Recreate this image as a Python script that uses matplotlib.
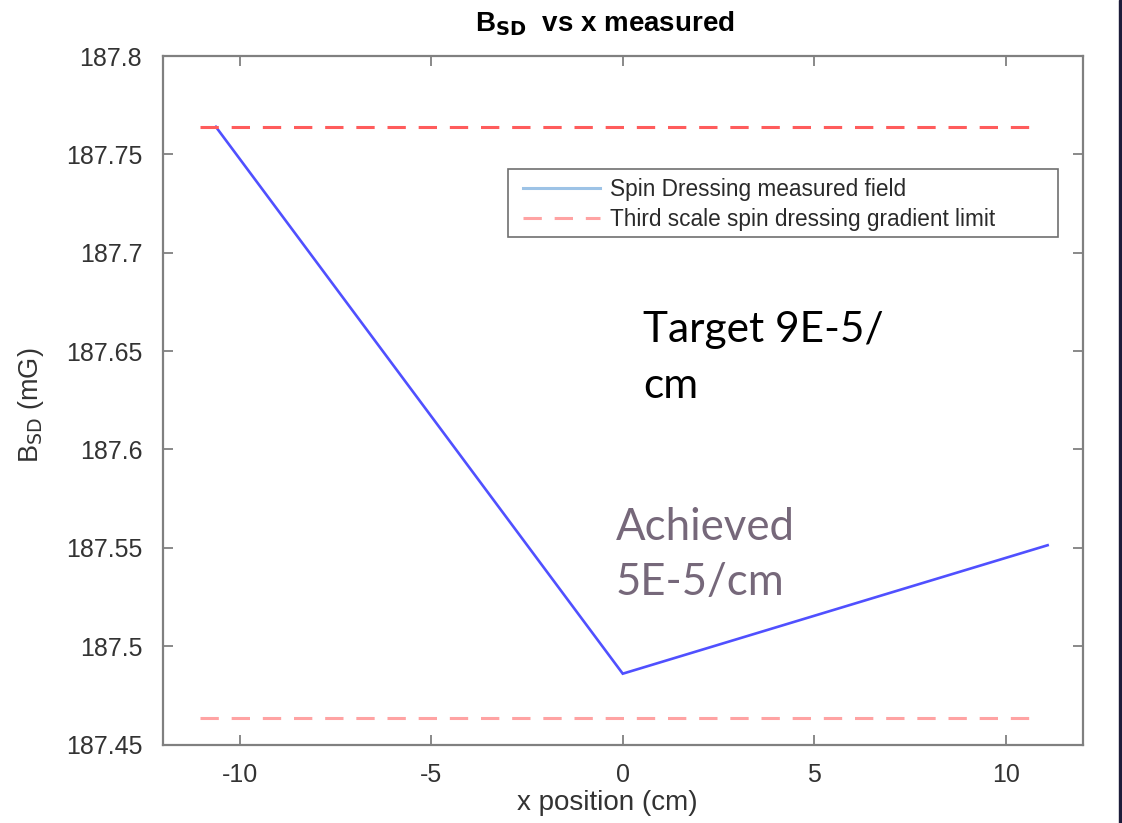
import matplotlib
matplotlib.use("Agg")
import matplotlib.pyplot as plt
from matplotlib.lines import Line2D
from matplotlib.patches import Rectangle

# Data
x_measured = [-10.62, 0.0, 11.09]
b_measured = [187.764, 187.486, 187.5513]
limit_x = [-11.04, 10.83]
limit_upper = 187.764
limit_lower = 187.4635
yticks = [187.45, 187.5, 187.55, 187.6, 187.65, 187.7, 187.75, 187.8]
ytick_labels = ["187.45", "187.5", "187.55", "187.6", "187.65", "187.7", "187.75", "187.8"]
xticks = [-10, -5, 0, 5, 10]
xtick_labels = ["-10", "-5", "0", "5", "10"]
legend_labels = ["Spin Dressing measured field", "Third scale spin dressing gradient limit"]

W, H = 1122, 823
fig = plt.figure(figsize=(W / 100, H / 100), dpi=100)
plt.rcParams['font.family'] = ['Liberation Sans', 'DejaVu Sans']

def fx(px):
    return px / W

def fy(py):
    return 1 - py / H

ax = fig.add_axes([fx(163), fy(744.5), fx(1082.5) - fx(163), fy(56) - fy(744.5)])

ax.plot(x_measured, b_measured, color='#5050ff', lw=1.9, solid_joinstyle='miter')
ax.plot(limit_x, [limit_upper, limit_upper], color='#ff5c5c', lw=2.2, dashes=(6.0, 4.2))
ax.plot(limit_x, [limit_lower, limit_lower], color='#ffa3a3', lw=2.2, dashes=(6.0, 4.2))

ax.set_xlim(-12, 12)
ax.set_ylim(187.45, 187.8)
ax.set_xticks(xticks)
ax.set_xticklabels(xtick_labels)
ax.set_yticks(yticks)
ax.set_yticklabels(ytick_labels)

spine_col = '#808080'
for s in ax.spines.values():
    s.set_color(spine_col)
    s.set_linewidth(1.6)
ax.tick_params(direction='in', length=7, width=1.3, color=spine_col,
               top=True, right=True, labelsize=18, labelcolor='#333333')
ax.tick_params(axis='y', pad=15)
ax.tick_params(axis='x', pad=13)

ax.set_xlabel("x position (cm)", fontsize=20, color='#333333')
ax.xaxis.set_label_coords((607 - 163) / (1082.5 - 163), -(803 - 744.5) / (744.5 - 56))
ax.xaxis.label.set_va('center')
ax.set_ylabel(r"B$_{\mathrm{SD}}$ (mG)", fontsize=19.5, color='#333333')
ax.yaxis.set_label_coords(-(163 - 31) / (1082.5 - 163), (744.5 - 405) / (744.5 - 56))
ax.yaxis.label.set_va('center')

fig.text(fx(475), fy(31), r"B$_{\mathbf{SD}}$  vs x measured", fontsize=20,
         fontweight='bold', color='black', va='baseline', ha='left')

handles = [Line2D([], [], color='#9dc3e6', lw=2.2),
           Line2D([], [], color='#ffa3a3', lw=2.2, dashes=(6.0, 4.2))]
leg = fig.legend(handles, legend_labels, loc='upper left',
                 bbox_to_anchor=(fx(516), fy(171)), bbox_transform=fig.transFigure,
                 fontsize=16.3, frameon=False, borderaxespad=0,
                 handlelength=3.4, handletextpad=0.45, labelspacing=0.32,
                 borderpad=0.3)
for t in leg.get_texts():
    t.set_color('#2a2a2a')
fig.patches.append(Rectangle((fx(508), fy(237)), fx(1058) - fx(508), fy(169) - fy(237),
                             transform=fig.transFigure, facecolor='none',
                             edgecolor='#707070', lw=1.2, zorder=5))

anno_font = ['Lato', 'DejaVu Sans']
fig.text(fx(643), fy(342), "Target 9E-5/", fontsize=30.5, color='black', family=anno_font, va='baseline')
fig.text(fx(643), fy(398), "cm", fontsize=30.5, color='black', family=anno_font, va='baseline')
fig.text(fx(616), fy(540), "Achieved", fontsize=31.5, color='#76687a', family=anno_font, va='baseline')
fig.text(fx(616), fy(595), "5E-5/cm", fontsize=31.5, color='#76687a', family=anno_font, va='baseline')

fig.patches.append(Rectangle((fx(1118.5), 0), fx(3.5), 1, transform=fig.transFigure,
                             color='#1c1c3a', zorder=10))

fig.savefig("out.png", dpi=100)
